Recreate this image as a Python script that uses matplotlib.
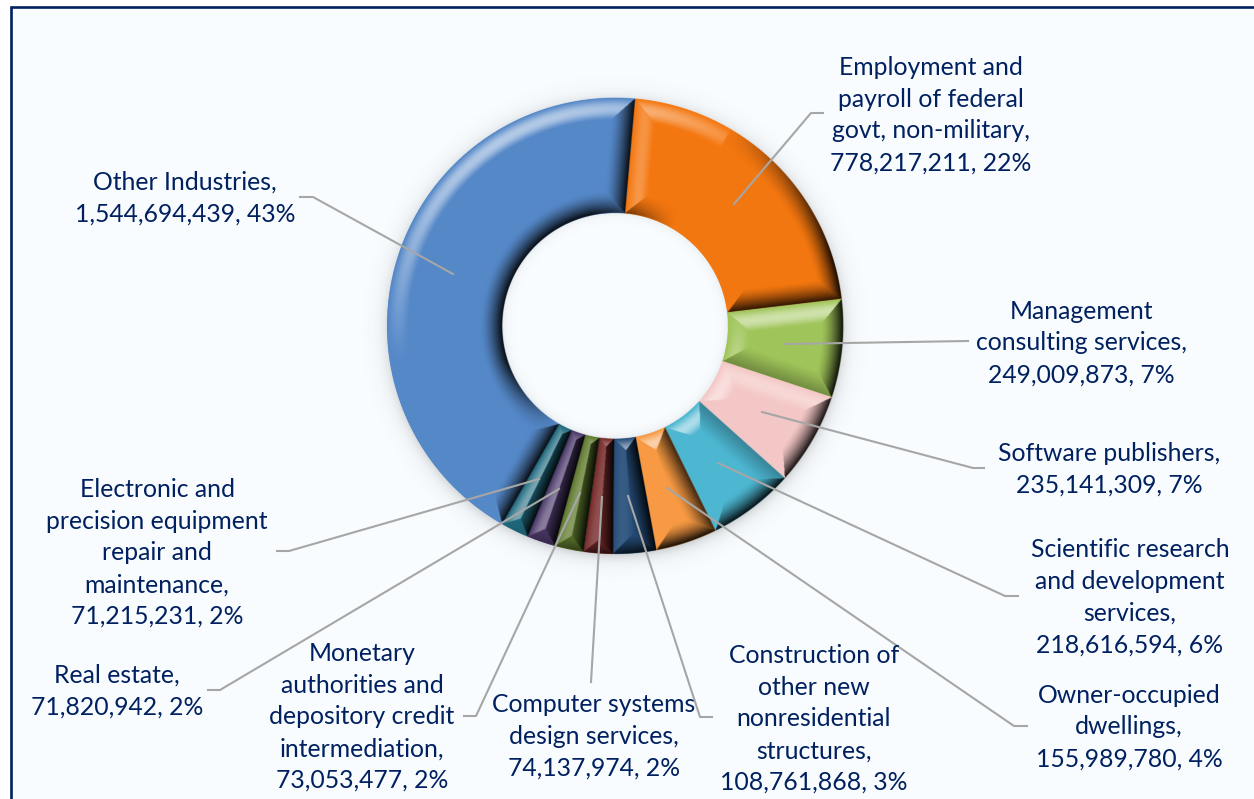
import numpy as np
import matplotlib
matplotlib.use("Agg")
import matplotlib.pyplot as plt
from matplotlib.patches import Rectangle

# clockwise from the top, same order as the sheet
names = ["Employment and\npayroll of federal\ngovt, non-military,",
         "Management\nconsulting services,",
         "Software publishers,",
         "Scientific research\nand development\nservices,",
         "Owner-occupied\ndwellings,",
         "Construction of\nother new\nnonresidential\nstructures,",
         "Computer systems\ndesign services,",
         "Monetary\nauthorities and\ndepository credit\nintermediation,",
         "Real estate,",
         "Electronic and\nprecision equipment\nrepair and\nmaintenance,",
         "Other Industries,"]
values = [778217211, 249009873, 235141309, 218616594, 155989780, 108761868,
          74137974, 73053477, 71820942, 71215231, 1544694439]
colors = ["#F47710", "#A0C55A", "#F4C8C6", "#4DB6D1", "#F79A43", "#264E7A",
          "#772C2B", "#5F7A2E", "#4D3A6B", "#216B80", "#5588C8"]

# label centres, pixels from top left of the image
label_x = [931, 1081, 1109, 1130, 1129, 814, 594, 362, 117, 157, 185]
label_y = [115, 343, 469, 597, 727, 719, 736, 717, 691, 553, 198]

# leader lines, pixels again
leaders = [[(734, 204), (811, 113), (823, 113)],
           [(785, 344), (968, 341)],
           [(762, 412), (973, 468), (984, 468)],
           [(718, 463), (1005, 596), (1018, 596)],
           [(667, 488), (1014, 726), (1027, 726)],
           [(628, 496), (700, 717), (712, 717)],
           [(602, 497), (591, 682)],
           [(580, 493), (476, 716), (464, 716)],
           [(559, 489), (220, 690), (208, 690)],
           [(539, 479), (289, 551), (277, 551)],
           [(453, 274), (313, 197), (300, 197)]]

W, H = 1254, 799
CX, CY, R, RI = 615, H - 326, 228, 113
BEVEL = 22
LIGHT_HI = np.array([-0.45, 0.9])
LIGHT_LO = np.array([-0.85, 0.5])
BG = "#F8FCFE"
NAVY = "#002060"


def bevel_image(ax, wedge):
    # shade one slice per pixel, each edge of the slice is a sloped facet
    t0, t1 = wedge.theta1, wedge.theta2
    step = 0.5
    xs = np.arange(CX - R - 2, CX + R + 2, step)
    ys = np.arange(CY - R - 2, CY + R + 2, step)
    x, y = np.meshgrid(xs, ys)
    dx, dy = x - CX, y - CY
    r = np.hypot(dx, dy)
    th = np.degrees(np.arctan2(dy, dx))
    mid = (t0 + t1) / 2
    th = (th - mid + 180) % 360 - 180 + mid
    ux, uy = dx / np.maximum(r, 1), dy / np.maximum(r, 1)

    d_out = R - r
    d_in = r - RI
    d_a = r * np.radians(th - t0)
    d_b = r * np.radians(t1 - th)
    d = np.stack([d_out, d_in, d_a, d_b])
    side = d.argmin(axis=0)
    dmin = d.min(axis=0)

    nx = np.choose(side, [ux, -ux, uy, -uy])
    ny = np.choose(side, [uy, -uy, -ux, ux])
    hi = nx * LIGHT_HI[0] + ny * LIGHT_HI[1]
    lo = nx * LIGHT_LO[0] + ny * LIGHT_LO[1]

    t = np.clip(dmin / BEVEL, 0, 1)
    lit = np.sin(np.pi * t) ** 1.3
    dark = (1 - t) ** 1.5
    shade = np.where(hi > 0,
                     np.clip(hi - 0.3, 0, 1) / 0.7 * lit,
                     np.clip(lo * 1.5, -1, 0) * dark)
    shade = np.where((hi > 0) & (lo < 0), np.minimum(shade, 0) + np.clip(lo * 1.5, -1, 0) * dark, shade)
    shade[t >= 1] = 0

    base = np.array(matplotlib.colors.to_rgb(wedge.get_facecolor()))
    rgb = np.ones(x.shape + (4,))
    for i in range(3):
        c = np.where(shade > 0,
                     base[i] + (1 - base[i]) * shade * 0.55,
                     base[i] * (1 + shade * 0.92))
        rgb[..., i] = c
    rgb[..., 3] = np.clip(dmin / step + 0.5, 0, 1)
    ax.imshow(rgb, origin="lower", zorder=3, interpolation="bilinear",
              extent=(xs[0] - step / 2, xs[-1] + step / 2, ys[0] - step / 2, ys[-1] + step / 2))


def soft_shadow(ax):
    xs = np.arange(CX - R - 40, CX + R + 40, 1.0)
    ys = np.arange(CY - R - 40, CY + R + 40, 1.0)
    x, y = np.meshgrid(xs, ys)
    r = np.hypot(x - CX, y - (CY - 3))
    alpha = np.where(r > R - 4, 0.28 * np.exp(-(r - R + 4) / 7), 0)
    r2 = np.hypot(x - CX, y - CY)
    alpha = np.where(r2 < RI + 2, 0.14 * np.exp(-(RI + 2 - r2) / 4), alpha)
    img = np.zeros(x.shape + (4,))
    img[..., :3] = 0.25
    img[..., 3] = alpha
    ax.imshow(img, origin="lower", zorder=1,
              extent=(xs[0], xs[-1] + 1, ys[0], ys[-1] + 1))


def main():
    total = sum(values)
    fig = plt.figure(figsize=(W / 100, H / 100), dpi=100, facecolor="white")
    ax = fig.add_axes([0, 0, 1, 1])

    ax.add_patch(Rectangle((11, -5), W + 5, H - 7 + 5, facecolor=BG, edgecolor=NAVY,
                           linewidth=1.9, zorder=0))
    soft_shadow(ax)

    wedges, _ = ax.pie(values, colors=colors, startangle=85, counterclock=False,
                       radius=R, center=(CX, CY), wedgeprops=dict(width=R - RI, zorder=2))
    for w in wedges:
        bevel_image(ax, w)

    for pts in leaders:
        xs = [p[0] for p in pts]
        ys = [H - p[1] for p in pts]
        ax.plot(xs, ys, color="#A6A6A6", lw=1.5, zorder=4, solid_joinstyle="round")

    for name, v, lx, ly in zip(names, values, label_x, label_y):
        pct = round(100 * v / total)
        ax.text(lx, H - ly, f"{name}\n{v:,}, {pct}%", ha="center", va="center", ma="center",
                family="Lato", fontsize=17.8, color=NAVY, linespacing=1.46, zorder=5)

    ax.set_xlim(0, W)
    ax.set_ylim(0, H)
    ax.set_aspect("equal")
    ax.axis("off")
    fig.savefig("out.png", dpi=100, facecolor="white")


if __name__ == "__main__":
    main()
